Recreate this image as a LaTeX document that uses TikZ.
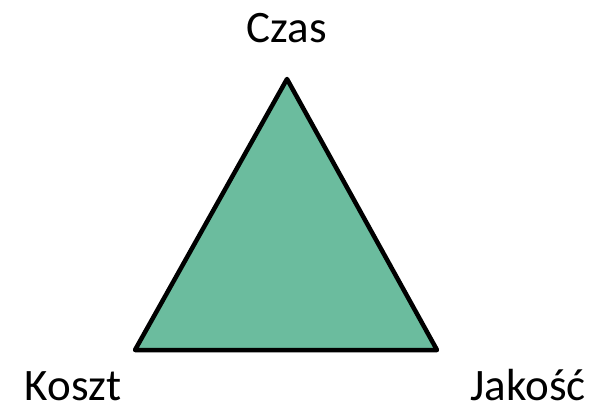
\documentclass[tikz,border=0pt]{standalone}
\usepackage{fontspec}
\setmainfont{Carlito}
\usepackage{tikz}
\definecolor{triangelgreen}{HTML}{6BBC9E}
\tikzset{
  corner/.style={
    inner sep=0pt,
    anchor=base,
    font=\fontsize{45}{50}\selectfont
  },
  triangle/.style={
    draw=black,
    fill=triangelgreen,
    line width=4.5pt,
    line join=round
  }
}

\begin{document}
\begin{tikzpicture}[x=1pt,y=1pt]
        \useasboundingbox (0,0) rectangle (589,410);

        \coordinate (top) at (287,331);
        \coordinate (left) at (135,60);
        \coordinate (right) at (437,60);

        \draw[triangle] (top) -- (left) -- (right) -- cycle;

        \node[corner] (czas) at (287,367) {Czas};
        \node[corner] (koszt) at (73,10) {Koszt};
        \node[corner] (jakosc) at (528,10) {Jakość};
\end{tikzpicture}
\end{document}
